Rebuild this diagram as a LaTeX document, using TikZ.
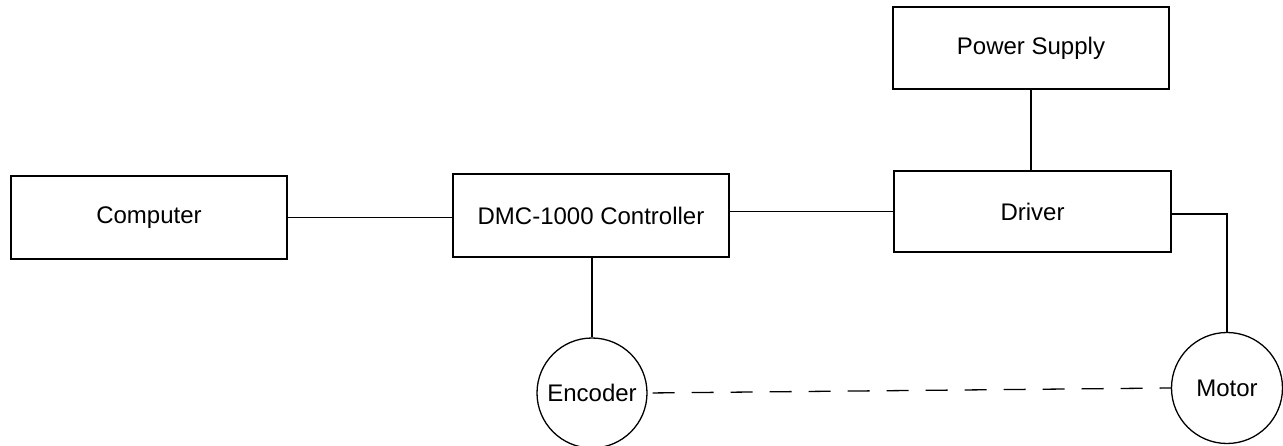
\documentclass[tikz,border=0pt]{standalone}
\usepackage{fontspec}
\setmainfont{Liberation Sans}
\begin{document}
\begin{tikzpicture}[x=1pt,y=-1pt,
  line width=1.3pt,
  blockbox/.style={draw, rectangle, inner sep=0pt, font=\fontsize{24}{27}\selectfont},
  roundbox/.style={draw, circle, minimum size=110pt, inner sep=0pt, font=\fontsize{24}{27}\selectfont},
  link/.style={line width=1.3pt},
  dashlink/.style={line width=1.3pt, dash pattern=on 22pt off 17pt, dash phase=-5pt}]
\useasboundingbox (0,0) rectangle (1283,446);
\node[blockbox, minimum width=276pt, minimum height=83pt] (comp) at (149,217.5) {Computer};
\node[blockbox, minimum width=276pt, minimum height=83pt] (dmc) at (591,215.5) {DMC-1000 Controller};
\node[blockbox, minimum width=277pt, minimum height=81pt] (drv) at (1032.5,211.5) {Driver};
\node[blockbox, minimum width=276pt, minimum height=82pt] (pwr) at (1031,48) {Power Supply};
\node[roundbox] (enc) at (592,393) {Encoder};
\node[roundbox, minimum size=111pt] (mot) at (1227,388) {Motor};
\draw[link] (comp.east) -- (comp.east -| dmc.west);
\draw[link] (drv.west -| dmc.east) -- (drv.west);
\draw[link] (pwr.south) -- (pwr.south |- drv.north);
\draw[link] ([yshift=-2.5pt]drv.east) -| (mot.north);
\draw[link] (enc.north |- dmc.south) -- (enc.north);
\draw[dashlink] (enc.east) -- (mot.west);
\end{tikzpicture}
\end{document}
